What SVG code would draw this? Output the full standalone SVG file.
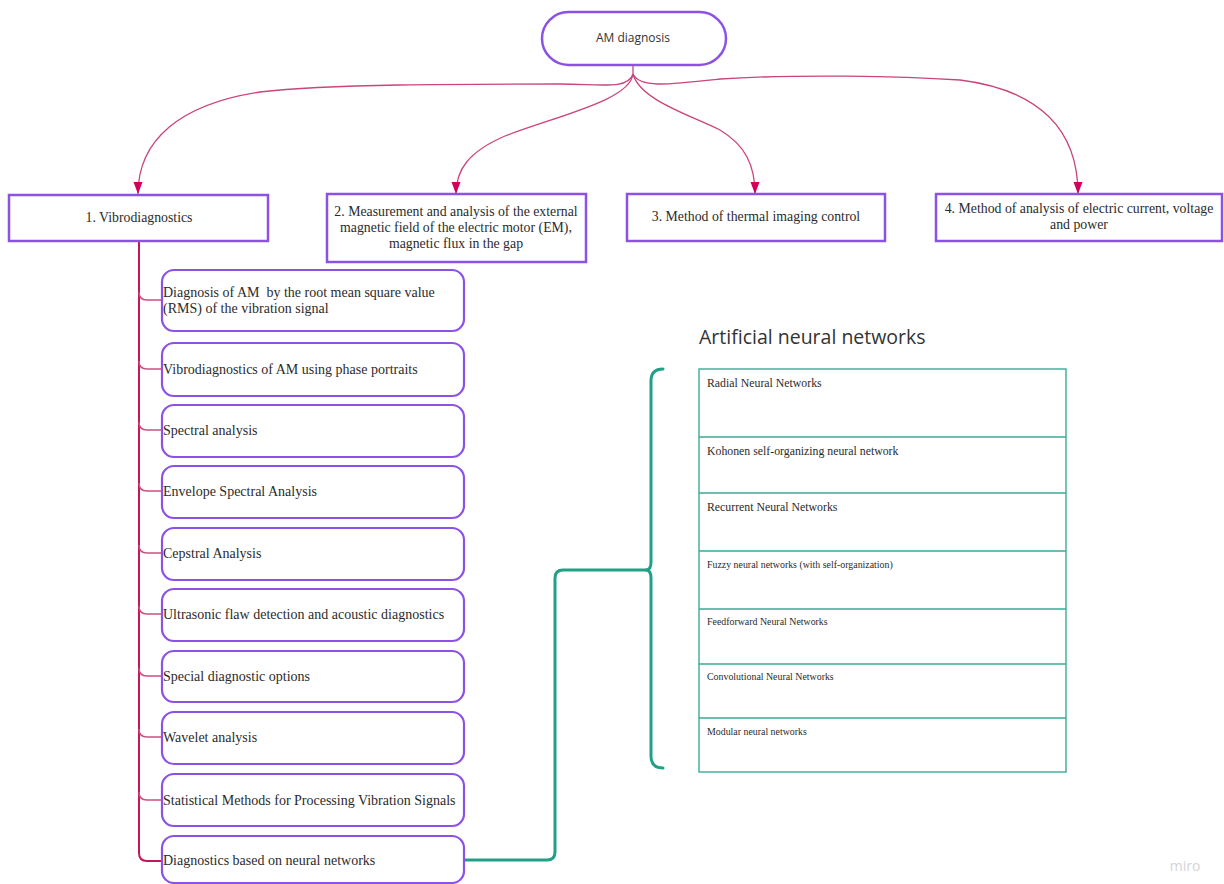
<svg xmlns="http://www.w3.org/2000/svg" width="1224" height="884" viewBox="0 0 1224 884">
  <defs>
    <marker id="arrow" markerUnits="userSpaceOnUse" markerWidth="13" markerHeight="10" refX="12" refY="4.5" orient="auto">
      <path d="M0,0 L12,4.5 L0,9 Z" fill="#d3005a"/>
    </marker>
    <style>
      .box { fill: #ffffff; stroke: #8c52e6; stroke-width: 2.5; }
      .item { fill: #ffffff; stroke: #8c52e6; stroke-width: 2.2; }
      .serif { font-family: "Liberation Serif", "Times New Roman", serif; fill: #2b2b2b; white-space: pre; }
      .sans { font-family: "Open Sans", "Noto Sans", sans-serif; fill: #333333; }
      .cat-text { font-size: 13.8px; text-anchor: middle; }
      .item-text { font-size: 14px; }
      .edge { fill: none; stroke: #c9457c; stroke-width: 1.3; }
      .trunk { fill: none; stroke: #c2185b; stroke-width: 2; }
      .branch { fill: none; stroke: #cf4f80; stroke-width: 1.4; }
      .teal { fill: none; stroke: #22a086; stroke-width: 3; stroke-linecap: round; stroke-linejoin: round; }
      .grid { fill: #ffffff; stroke: #3aaa95; stroke-width: 1.4; }
      .row-big { font-size: 11.8px; }
      .row-small { font-size: 9.9px; }
    </style>
  </defs>

  <rect width="1224" height="884" fill="#ffffff"/>

  <!-- connectors -->
  <g id="connectors">
    <!-- root to the four method groups -->
    <path class="edge" d="M633,65 L633,74 C628,90 600,84 560,84 C460,84 330,84 260,92 C180,104 138,140 138,194" marker-end="url(#arrow)"/>
    <path class="edge" d="M633,74 C630,100 560,115 505,136 C468,152 456,170 456,194" marker-end="url(#arrow)"/>
    <path class="edge" d="M633,74 C640,100 690,115 720,130 C745,145 755,165 755,194" marker-end="url(#arrow)"/>
    <path class="edge" d="M633,74 C640,88 665,85 720,79 C800,74 900,76 960,80 C1040,90 1078,130 1078,194" marker-end="url(#arrow)"/>

    <!-- vibrodiagnostics trunk and branches -->
    <path class="trunk" d="M139,241 L139,853 Q139,861 147,861 L162,861"/>
    <path class="branch" d="M139,292 Q139,300 147,300 L162,300"/>
    <path class="branch" d="M139,361 Q139,369 147,369 L162,369"/>
    <path class="branch" d="M139,422 Q139,430 147,430 L162,430"/>
    <path class="branch" d="M139,483 Q139,491 147,491 L162,491"/>
    <path class="branch" d="M139,545 Q139,553 147,553 L162,553"/>
    <path class="branch" d="M139,606 Q139,614 147,614 L162,614"/>
    <path class="branch" d="M139,668 Q139,676 147,676 L162,676"/>
    <path class="branch" d="M139,729 Q139,737 147,737 L162,737"/>
    <path class="branch" d="M139,792 Q139,800 147,800 L162,800"/>

    <!-- neural networks link and bracket -->
    <path class="teal" d="M465,860 L547,860 Q555,860 555,852 L555,578 Q555,570 563,570 L646,570"/>
    <path class="teal" d="M663,369 Q651,369 651,381 L651,562 Q651,570 646,570 Q651,570 651,578 L651,756 Q651,768 663,768"/>
  </g>

  <!-- root -->
  <g id="node-root">
    <rect class="box" x="542" y="12" width="184" height="53" rx="26.5"/>
    <text class="sans" x="633" y="42" font-size="12" text-anchor="middle">AM diagnosis</text>
  </g>

  <!-- method groups -->
  <g id="node-vibro">
    <rect class="box" x="9" y="195" width="259" height="46"/>
    <text class="serif cat-text" x="139" y="222">1. Vibrodiagnostics</text>
  </g>
  <g id="node-magnetic">
    <rect class="box" x="327" y="194" width="259" height="68"/>
    <text class="serif cat-text" x="456" y="216">2. Measurement and analysis of the external</text>
    <text class="serif cat-text" x="456" y="232">magnetic field of the electric motor (EM),</text>
    <text class="serif cat-text" x="456" y="248">magnetic flux in the gap</text>
  </g>
  <g id="node-thermal">
    <rect class="box" x="627" y="194" width="258" height="47"/>
    <text class="serif cat-text" x="756" y="221">3. Method of thermal imaging control</text>
  </g>
  <g id="node-current">
    <rect class="box" x="936" y="194" width="286" height="47"/>
    <text class="serif cat-text" x="1079" y="213">4. Method of analysis of electric current, voltage</text>
    <text class="serif cat-text" x="1079" y="229">and power</text>
  </g>

  <!-- vibrodiagnostic methods -->
  <g id="node-rms">
    <rect class="item" x="162" y="270" width="302" height="61" rx="12"/>
    <text class="serif item-text" x="163" y="297">Diagnosis of AM  by the root mean square value</text>
    <text class="serif item-text" x="163" y="313">(RMS) of the vibration signal</text>
  </g>
  <g id="node-phase">
    <rect class="item" x="162" y="343" width="302" height="53" rx="12"/>
    <text class="serif item-text" x="163" y="374">Vibrodiagnostics of AM using phase portraits</text>
  </g>
  <g id="node-spectral">
    <rect class="item" x="162" y="405" width="302" height="52" rx="12"/>
    <text class="serif item-text" x="163" y="435">Spectral analysis</text>
  </g>
  <g id="node-envelope">
    <rect class="item" x="162" y="466" width="302" height="52" rx="12"/>
    <text class="serif item-text" x="163" y="496">Envelope Spectral Analysis</text>
  </g>
  <g id="node-cepstral">
    <rect class="item" x="162" y="528" width="302" height="52" rx="12"/>
    <text class="serif item-text" x="163" y="558">Cepstral Analysis</text>
  </g>
  <g id="node-ultrasonic">
    <rect class="item" x="162" y="589" width="302" height="52" rx="12"/>
    <text class="serif item-text" x="163" y="619">Ultrasonic flaw detection and acoustic diagnostics</text>
  </g>
  <g id="node-special">
    <rect class="item" x="162" y="651" width="302" height="51" rx="12"/>
    <text class="serif item-text" x="163" y="681">Special diagnostic options</text>
  </g>
  <g id="node-wavelet">
    <rect class="item" x="162" y="712" width="302" height="52" rx="12"/>
    <text class="serif item-text" x="163" y="742">Wavelet analysis</text>
  </g>
  <g id="node-statistical">
    <rect class="item" x="162" y="774" width="302" height="52" rx="12"/>
    <text class="serif item-text" x="163" y="805">Statistical Methods for Processing Vibration Signals</text>
  </g>
  <g id="node-neural">
    <rect class="item" x="162" y="836" width="302" height="47" rx="12"/>
    <text class="serif item-text" x="163" y="865">Diagnostics based on neural networks</text>
  </g>

  <!-- neural network types -->
  <g id="node-ann-table">
    <text class="sans" x="699" y="344" font-size="19.5">Artificial neural networks</text>
    <rect class="grid" x="699" y="369" width="367" height="403"/>
    <path class="grid" d="M699,437 H1066 M699,493 H1066 M699,551 H1066 M699,609 H1066 M699,664 H1066 M699,718 H1066" fill="none"/>
    <text class="serif row-big" x="707" y="387">Radial Neural Networks</text>
    <text class="serif row-big" x="707" y="455">Kohonen self-organizing neural network</text>
    <text class="serif row-big" x="707" y="511">Recurrent Neural Networks</text>
    <text class="serif row-small" x="707" y="568">Fuzzy neural networks (with self-organization)</text>
    <text class="serif row-small" x="707" y="625">Feedforward Neural Networks</text>
    <text class="serif row-small" x="707" y="680">Convolutional Neural Networks</text>
    <text class="serif row-small" x="707" y="735">Modular neural networks</text>
  </g>

  <text x="1185" y="871" font-family="Open Sans, sans-serif" font-size="14" fill="#d4d4d8" text-anchor="middle">miro</text>
</svg>
